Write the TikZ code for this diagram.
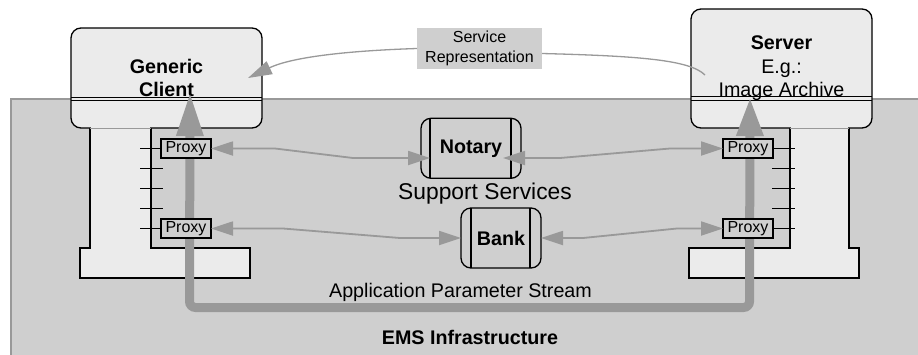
\documentclass[tikz,border=0pt]{standalone}
\usepackage{fontspec}
\setmainfont{Liberation Sans}
\usetikzlibrary{arrows.meta,calc}
\definecolor{bg}{HTML}{CFCFCF}
\definecolor{boxfill}{HTML}{EBEBEB}
\definecolor{arr}{HTML}{999999}
\newcommand\fsN{\fontsize{19.7}{23.5}\selectfont}
\newcommand\fsP{\fontsize{16}{19}\selectfont}
\newcommand\fsS{\fontsize{16}{19.4}\selectfont}
\newcommand\fsL{\fontsize{22.8}{26}\selectfont}
\begin{document}
\begin{tikzpicture}[x=1pt,y=-1pt,
  every node/.style={inner sep=0pt,outer sep=0pt},
  hostbox/.style={draw,line width=1.3pt,fill=boxfill,rounded corners=10pt,align=center,font=\fsN},
  pedfill/.style={fill=boxfill},
  pedline/.style={draw=black,line width=1.3pt},
  proxybox/.style={draw,line width=1.8pt,fill=bg,minimum width=50pt,minimum height=19pt,font=\fsP},
  svcbox/.style={draw,line width=1.3pt,rounded corners=10pt,font=\fsN\bfseries},
  conn/.style={draw=arr,line width=1.8pt,{Triangle[length=22pt,width=14pt]}-{Triangle[length=22pt,width=14pt]}},
  thickconn/.style={draw=arr,line width=9pt,rounded corners=6pt},
  tickline/.style={line width=1.3pt}
]
\useasboundingbox (0,0) rectangle (918,354);
\clip (0,0) rectangle (918,354);
\fill[white] (0,0) rectangle (918,354);

% infrastructure
\draw[draw=arr,line width=1.3pt,fill=bg] (11,99) rectangle (940,380);

% pedestals
\fill[pedfill] (90,128) -- (90,248) -- (80,248) -- (80,278) -- (250,278) -- (250,248) -- (151,248) -- (151,120) -- (90,120) -- cycle;
\draw[pedline] (90,128) -- (90,248) -- (80,248) -- (80,278) -- (250,278) -- (250,248) -- (151,248) -- (151,128);
\fill[pedfill] (849,120) -- (849,248) -- (859,248) -- (859,278) -- (689,278) -- (689,248) -- (790,248) -- (790,120) -- cycle;
\draw[pedline] (849,128) -- (849,248) -- (859,248) -- (859,278) -- (689,278) -- (689,248) -- (790,248) -- (790,128);

% host boxes
\node[hostbox,font=\fsN\bfseries,minimum width=191pt,minimum height=100pt] (client) at (166.5,78) {Generic\\Client};
\node[hostbox,minimum width=181pt,minimum height=119pt] (server) at (781.5,68.5) {\textbf{Server}\\E.g.:\\Image Archive};
\fill[boxfill] (91,125) rectangle (150,131.5);
\fill[boxfill] (791,125) rectangle (848,131.5);
\draw[draw=arr,line width=1pt] (90,128) -- (151,128);
\draw[draw=arr,line width=1pt] (790,128) -- (849,128);
\draw[line width=1pt] ($(client.west)+(0,19.7)$) -- ($(client.east)+(0,19.7)$);
\draw[line width=1pt] ($(client.west)+(0,22)$) -- ($(client.east)+(0,22)$);
\draw[line width=1pt] ($(server.west)+(0,28.2)$) -- ($(server.east)+(0,28.2)$);
\draw[line width=1pt] ($(server.west)+(0,31.5)$) -- ($(server.east)+(0,31.5)$);

% application parameter stream
\coordinate (ctip) at (190,92);
\coordinate (stip) at (750,97);
\draw[thickconn,{Triangle[length=44pt,width=25pt]}-{Triangle[length=39pt,width=25pt]}] (ctip) -- (189.5,307.5) -- (749.5,307.5) -- (stip);

% proxies
\node[proxybox] (cp1) at (186,148.5) {Proxy};
\node[proxybox] (cp2) at (186,228.5) {Proxy};
\node[proxybox] (sp1) at (748,148.5) {Proxy};
\node[proxybox] (sp2) at (748,228.5) {Proxy};

% ticks
\draw[tickline] (140,148.5) -- (cp1.west);
\draw[tickline] (140,168.5) -- (163,168.5);
\draw[tickline] (140,188.5) -- (163,188.5);
\draw[tickline] (140,208.5) -- (163,208.5);
\draw[tickline] (140,228.5) -- (cp2.west);
\draw[tickline] (sp1.east) -- (795,148.5);
\draw[tickline] (772,168.5) -- (795,168.5);
\draw[tickline] (772,188.5) -- (795,188.5);
\draw[tickline] (772,208.5) -- (795,208.5);
\draw[tickline] (sp2.east) -- (795,228.5);

% services
\node[svcbox,minimum width=100pt,minimum height=60pt] (notary) at (471,148.3) {Notary};
\draw[line width=1.3pt] ($(notary.north west)+(9,0)$) -- ($(notary.south west)+(9,0)$);
\draw[line width=1.3pt] ($(notary.north east)+(-10,0)$) -- ($(notary.south east)+(-10,0)$);
\node[svcbox,minimum width=80pt,minimum height=60pt] (bank) at (501,238) {Bank};
\draw[line width=1.3pt] ($(bank.north west)+(10,0)$) -- ($(bank.south west)+(10,0)$);
\draw[line width=1.3pt] ($(bank.north east)+(-11,0)$) -- ($(bank.south east)+(-11,0)$);

% connectors
\draw[conn] (cp1.east) -- (275,148.5) -- (353,158) -- ($(notary.west)+(9,9.7)$);
\draw[conn] ($(notary.east)+(-18,9.7)$) -- (560,158) -- (670,148.5) -- (sp1.west);
\draw[conn] (cp2.east) -- (283,228.5) -- (400,238) -- (bank.west);
\draw[conn] (bank.east) -- (583,238) -- (677,228.5) -- (sp2.west);

% service representation
\node[fill=bg,minimum width=125pt,minimum height=41pt,align=center,font=\fsS] (label) at (479.5,48.5) {Service\\Representation};
\draw[draw=arr,line width=1.3pt] ($(server.west)+(14,6.5)$) .. controls (690,60) and (640,56) .. ($(label.east)+(0,5)$);
\draw[draw=arr,line width=1.3pt,-{Triangle[length=24pt,width=14pt]}] (label.west) .. controls (340,51) and (290,58) .. ($(client.east)+(-14,0)$);

% texts
\node[font=\fsL,anchor=base] (support) at (485,199) {Support Services};
\node[font=\fsN,anchor=base] (aps) at (460.5,297.7) {Application Parameter Stream};
\node[font=\fsN\bfseries,anchor=base] (ems) at (470,344) {EMS Infrastructure};
\end{tikzpicture}
\end{document}
